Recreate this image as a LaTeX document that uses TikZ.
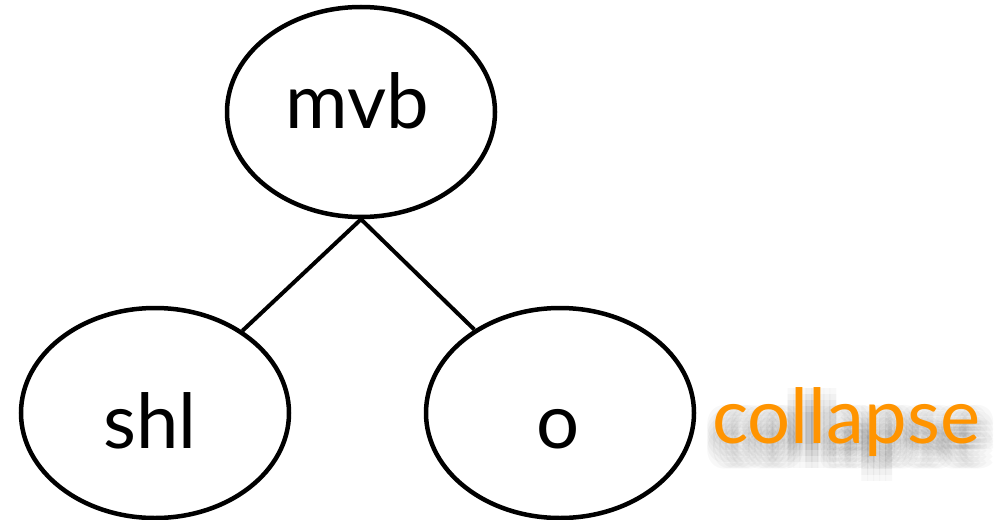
\documentclass[tikz,border=0pt]{standalone}
\usepackage{fontspec}
\setmainfont{Lato}
\usetikzlibrary{shapes.geometric}
\definecolor{collorange}{RGB}{255,148,0}
\tikzset{
  ell/.style={draw=black, line width=4.5pt, ellipse, minimum width=268pt, minimum height=210pt, inner sep=0pt},
  lbl/.style={font=\fontsize{76}{80}\selectfont, inner sep=0pt, anchor=base},
  edge/.style={draw=black, line width=4pt},
  shad/.style={font=\fontsize{76}{80}\selectfont, inner sep=0pt, anchor=base west, text=black, text opacity=0.028}
}
\begin{document}
\begin{tikzpicture}[x=1pt,y=-1pt]
\useasboundingbox (0,0) rectangle (995,519);
\node[ell] (mvb) at (361,112) {};
\node[ell] (shl) at (155,413) {};
\node[ell] (o) at (560,413) {};
\node[lbl] (mvbt) at (357,128) {mvb};
\node[lbl] (shlt) at (150,448) {shl};
\node[lbl] (ot) at (558,448) {o};
\draw[edge] (mvb.south) -- (shl);
\draw[edge] (mvb.south) -- (o);
\foreach \dx in {-12,-6,0,6,12}{
  \foreach \dy in {-12,-6,0,6,12}{
    \node[shad] (sh\dx\dy) at (712+4+\dx,443+13+\dy) {collapse};
  }
}
\node[lbl, anchor=base west, text=collorange] (collapse) at (712,443) {collapse};
\end{tikzpicture}
\end{document}
